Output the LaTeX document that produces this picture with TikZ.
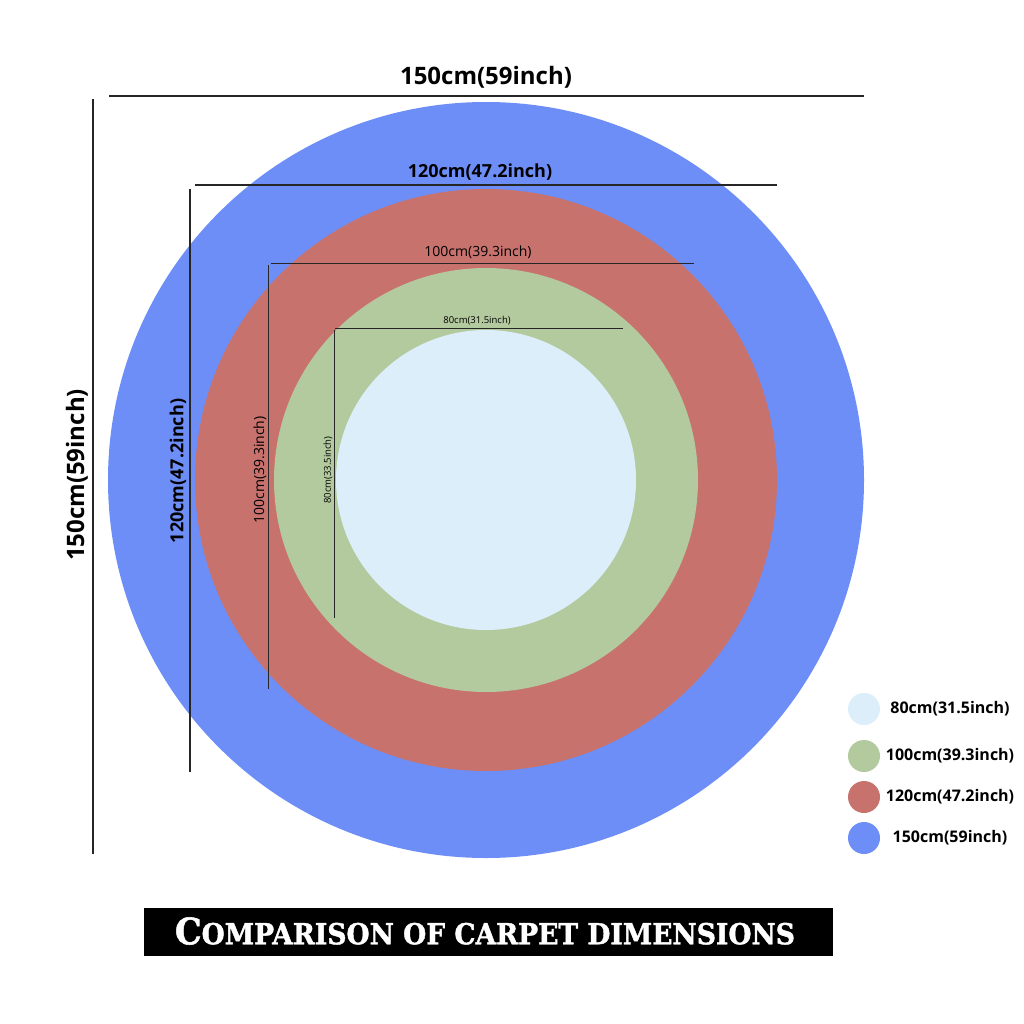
\documentclass[tikz,border=0pt]{standalone}
\usepackage{fontspec}
\setmainfont{Open Sans}
\newfontfamily\titlefont{DejaVu Serif}[BoldFeatures={FakeBold=1.5}]
\definecolor{rugblue}{RGB}{110,142,247}
\definecolor{rugred}{RGB}{200,114,110}
\definecolor{ruggreen}{RGB}{179,201,158}
\definecolor{ruglight}{RGB}{221,238,251}
\begin{document}
\begin{tikzpicture}[x=1pt,y=-1pt]
\useasboundingbox (0,0) rectangle (1024,1024);
\fill [white] (0,0) rectangle (1024,1024);

\foreach \n/\r/\c in {150/378/rugblue, 120/291/rugred, 100/212/ruggreen, 80/150/ruglight}
  \node [circle, fill=\c, inner sep=0, minimum size=2*\r] (ring\n) at (486,480) {};

% dimension lines: y of top line, x of side line, ends
\foreach \a/\b/\c/\d/\e/\f/\w in {109/864/96/93/99/854/1.6pt, 195/777/185/190/189/772/1.3pt, 271/694/263/268/265/689/0.9pt, 335/623/328/334/330/618/0.8pt}
  { \draw [line width=\w, black!85] (\a,\c) -- (\b,\c);
    \draw [line width=\w, black!85] (\d,\e) -- (\d,\f); }

\node [font=\bfseries\fontsize{24}{24}\selectfont] (top150) at (486,77) {150cm(59inch)};
\node [font=\bfseries\fontsize{24}{24}\selectfont, rotate=90] (side150) at (77,475) {150cm(59inch)};
\node [font=\bfseries\fontsize{18}{18}\selectfont] (top120) at (480,172) {120cm(47.2inch)};
\node [font=\bfseries\fontsize{18}{18}\selectfont, rotate=90] (side120) at (178,471) {120cm(47.2inch)};
\node [font=\fontsize{14}{14}\selectfont] (top100) at (478,252) {100cm(39.3inch)};
\node [font=\fontsize{14}{14}\selectfont, rotate=90] (side100) at (260,470) {100cm(39.3inch)};
\node [font=\fontsize{9.5}{9.5}\selectfont] (top80) at (477,321) {80cm(31.5inch)};
\node [font=\fontsize{9.5}{9.5}\selectfont, rotate=90] (side80) at (328,470) {80cm(33.5inch)};

% legend
\foreach \y/\c/\t in {709/ruglight/80cm(31.5inch), 756/ruggreen/100cm(39.3inch), 797/rugred/120cm(47.2inch), 838/rugblue/150cm(59inch)}
  { \node [circle, fill=\c, inner sep=0, minimum size=32] (dot\y) at (864,\y) {};
    \node [font=\bfseries\fontsize{16}{16}\selectfont] (key\y) at (950,\y) {\t}; }

\node [fill=black, minimum width=689, minimum height=48, inner sep=0] (titlebar) at (488.5,932) {};
\node [text=white, inner sep=0] (title) at (485,931) {\resizebox{620pt}{27pt}{\titlefont\bfseries\fontsize{34}{34}\selectfont C\fontsize{27}{27}\selectfont OMPARISON OF CARPET DIMENSIONS}};

\end{tikzpicture}
\end{document}
